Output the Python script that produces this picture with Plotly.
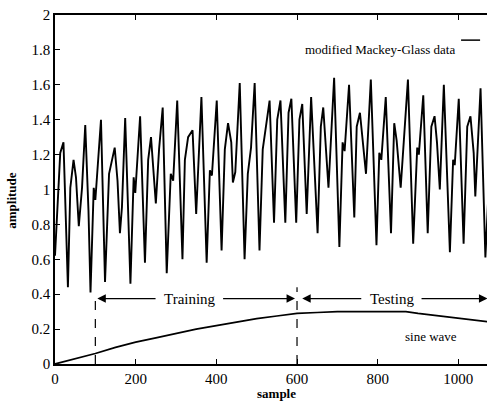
import plotly.graph_objects as go

# Modified Mackey-Glass series (key points)
mg_x = [0, 13, 21, 30, 32, 38, 46, 52, 59, 67, 75, 83, 88, 96, 100, 114, 124, 134, 141, 148, 155,
        161, 166, 174, 187, 195, 199, 211, 223, 231, 238, 242, 250, 258, 267, 277, 287, 293, 303,
        316, 322, 330, 341, 350, 363, 376, 384, 389, 401, 413, 421, 429, 437, 441, 447, 458, 470,
        478, 486, 495, 507, 515, 524, 532, 543, 551, 559, 571, 579, 586, 598, 606, 613, 624, 635,
        651, 659, 665, 678, 692, 705, 713, 718, 729, 742, 748, 756, 762, 771, 783, 797, 804, 809,
        820, 833, 841, 847, 857, 875, 888, 898, 902, 913, 924, 933, 941, 947, 954, 964, 979, 987,
        991, 1001, 1013, 1022, 1030, 1038, 1042, 1055, 1067, 1075]
mg_y = [0.62, 1.21, 1.27, 0.67, 0.44, 1.01, 1.17, 1.07, 0.79, 1.01, 1.37, 0.88, 0.41, 1.01, 0.94,
        1.40, 0.47, 1.09, 1.17, 1.24, 1.05, 0.75, 0.90, 1.41, 0.46, 1.07, 0.98, 1.42, 0.58, 1.17,
        1.30, 1.17, 0.92, 1.23, 1.47, 0.52, 1.09, 1.05, 1.51, 0.60, 1.17, 1.30, 1.34, 0.86, 1.53,
        0.58, 1.11, 1.08, 1.51, 0.65, 1.23, 1.38, 1.27, 1.04, 1.10, 1.61, 0.60, 1.09, 1.24, 1.61,
        0.65, 1.23, 1.38, 1.51, 0.81, 1.40, 1.51, 0.81, 1.44, 1.52, 0.81, 1.40, 1.49, 0.86, 1.53,
        0.75, 1.36, 1.47, 1.01, 1.64, 0.67, 1.27, 1.22, 1.60, 0.84, 1.36, 1.44, 1.30, 1.09, 1.63,
        0.68, 1.21, 1.17, 1.53, 0.75, 1.38, 1.28, 1.01, 1.63, 0.69, 1.24, 1.20, 1.54, 0.75, 1.36,
        1.42, 1.27, 1.00, 1.60, 0.64, 1.17, 1.14, 1.52, 0.69, 1.36, 1.42, 1.21, 0.96, 1.58, 0.61, 1.0]

# Sine wave
sine_x = [0, 50, 100, 150, 200, 250, 300, 350, 400, 450, 500, 550, 600, 650, 700, 750, 800, 870,
          900, 950, 1000, 1040, 1080]
sine_y = [0.0, 0.03, 0.06, 0.095, 0.125, 0.15, 0.175, 0.2, 0.22, 0.24, 0.26, 0.275, 0.29, 0.295,
          0.3, 0.3, 0.3, 0.3, 0.29, 0.275, 0.26, 0.25, 0.24]

# Split markers
train_x = [100, 100]
train_y = [0, 0.41]
test_x = [600, 600]
test_y = [0, 0.44]

x_ticks = [0, 200, 400, 600, 800, 1000]
y_ticks = [0, 0.2, 0.4, 0.6, 0.8, 1, 1.2, 1.4, 1.6, 1.8, 2]

FONT = "Liberation Serif"

fig = go.Figure()
fig.add_trace(go.Scatter(x=mg_x, y=mg_y, mode="lines", line=dict(color="black", width=1.9),
                         showlegend=False))
fig.add_trace(go.Scatter(x=sine_x, y=sine_y, mode="lines", line=dict(color="black", width=1.7),
                         showlegend=False))
fig.add_trace(go.Scatter(x=train_x, y=train_y, mode="lines",
                         line=dict(color="black", width=1.2, dash="dash"), showlegend=False))
fig.add_trace(go.Scatter(x=test_x, y=test_y, mode="lines",
                         line=dict(color="black", width=1.2, dash="dash"), showlegend=False))

arrow_y = 0.375
arrows = [(105, 253), (595, 413), (613, 763), (1072, 905)]
for head, tail in arrows:
    fig.add_annotation(x=head, y=arrow_y, ax=tail, ay=arrow_y, axref="x", ayref="y",
                       xref="x", yref="y", text="", showarrow=True, arrowhead=2,
                       arrowsize=1.3, arrowwidth=1.3, arrowcolor="black")

fig.add_annotation(x=335, y=arrow_y, xref="x", yref="y", text="Training", showarrow=False,
                   font=dict(family=FONT, size=15, color="black"))
fig.add_annotation(x=836, y=arrow_y, xref="x", yref="y", text="Testing", showarrow=False,
                   font=dict(family=FONT, size=15, color="black"))
fig.add_annotation(x=932, y=0.155, xref="x", yref="y", text="sine wave", showarrow=False,
                   font=dict(family=FONT, size=13, color="black"))

# legend-like label
fig.add_annotation(x=0.931, y=0.928, xref="paper", yref="paper", xanchor="right",
                   text="modified Mackey-Glass data", showarrow=False,
                   font=dict(family=FONT, size=13, color="black"))
fig.add_shape(type="line", xref="paper", yref="paper", x0=0.94, x1=0.984, y0=0.928, y1=0.928,
              line=dict(color="black", width=1.5))

# axis titles
fig.add_annotation(x=-0.1, y=0.47, xref="paper", yref="paper", xanchor="center",
                   yanchor="middle", text="<b>amplitude</b>", textangle=-90, showarrow=False,
                   font=dict(family=FONT, size=13, color="black"))
fig.add_annotation(x=0.512, y=-0.061, xref="paper", yref="paper", xanchor="center",
                   yanchor="top", text="<b>sample</b>", showarrow=False, borderpad=0,
                   font=dict(family=FONT, size=13, color="black"))

fig.update_layout(
    width=487, height=401,
    margin=dict(l=55, r=0, t=15, b=37),
    paper_bgcolor="white", plot_bgcolor="white",
    font=dict(family=FONT, size=14, color="black"),
    xaxis=dict(range=[0, 1071], tickvals=x_ticks, ticks="inside", ticklen=5, tickwidth=1,
               tickcolor="black", showline=True, linecolor="black", linewidth=1.5,
               mirror="ticks", showgrid=False, zeroline=False,
               tickfont=dict(family=FONT, size=15, color="black")),
    yaxis=dict(range=[0, 2], tickvals=y_ticks, ticks="inside", ticklen=5, tickwidth=1,
               tickcolor="black", showline=True, linecolor="black", linewidth=1.5,
               mirror=False, showgrid=False, zeroline=False,
               tickfont=dict(family=FONT, size=15, color="black")),
)

fig.write_html("out.html")
